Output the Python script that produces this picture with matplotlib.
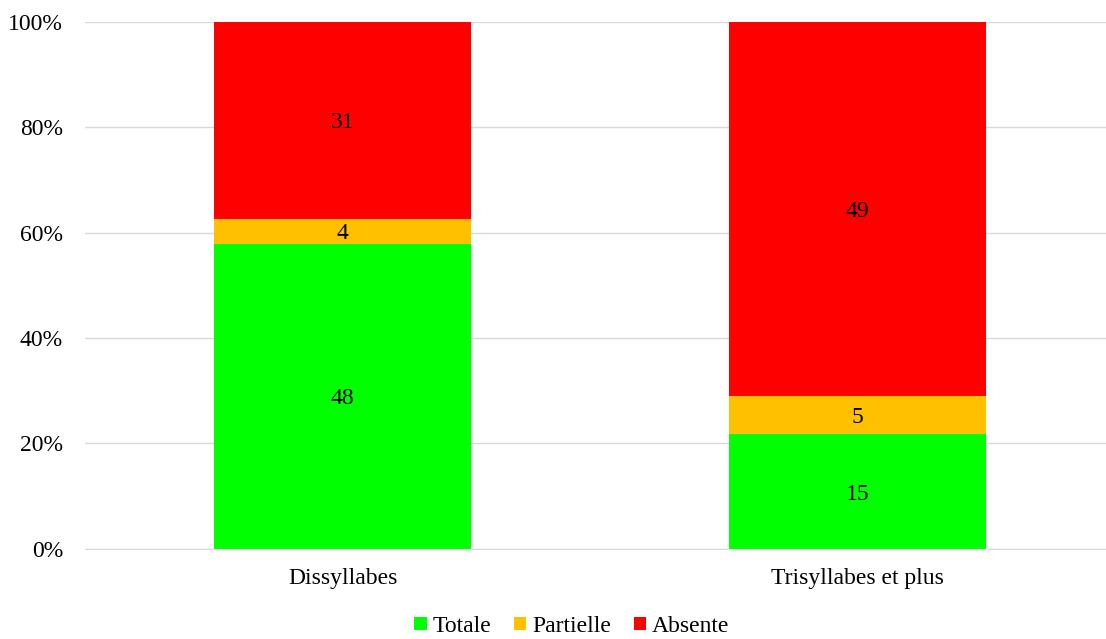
import numpy as np
import matplotlib
matplotlib.use("Agg")
import matplotlib.pyplot as plt
from matplotlib.ticker import PercentFormatter

categories = ["Dissyllabes", "Trisyllabes et plus"]
series_names = ["Totale", "Partielle", "Absente"]
totale = [48, 15]
partielle = [4, 5]
absente = [31, 49]
colors = ["#00FF00", "#FFC000", "#FF0000"]

plt.rcParams['font.family'] = ['Liberation Serif', 'DejaVu Serif']
fs = 17

fig = plt.figure(figsize=(11.06, 6.39), dpi=100)
# plot area runs a bit past the right edge of the figure, like the original
ax = fig.add_axes([0.077, 0.141, 0.931, 0.825])

data = np.array([totale, partielle, absente], dtype=float)
sums = data.sum(axis=0)
pct = data / sums * 100
x = np.arange(len(categories))
bottom = np.zeros(len(categories))
for i, name in enumerate(series_names):
    bars = ax.bar(x, pct[i], 0.5, bottom=bottom, color=colors[i], label=name, zorder=2)
    for j, b in enumerate(bars):
        ax.text(b.get_x() + b.get_width() / 2, bottom[j] + pct[i][j] / 2, str(int(data[i][j])),
                ha="center", va="center_baseline", fontsize=fs, color="black", zorder=3)
    bottom += pct[i]

ax.set_xlim(-0.5, 1.5)
ax.set_ylim(0, 100)
ax.set_yticks(np.arange(0, 101, 20))
ax.yaxis.set_major_formatter(PercentFormatter(decimals=0))
ax.set_xticks(x)
ax.set_xticklabels(categories)
ax.tick_params(axis="both", length=0, labelsize=fs)
ax.tick_params(axis="y", pad=16)
ax.tick_params(axis="x", pad=14)
ax.grid(axis="y", color="#D9D9D9", linewidth=1, zorder=0)
for s in ["top", "right", "left"]:
    ax.spines[s].set_visible(False)
ax.spines["bottom"].set_color("#D9D9D9")

fig.legend(loc="lower center", bbox_to_anchor=(0.517, -0.03), ncol=3, frameon=False,
           fontsize=fs, handlelength=0.52, handleheight=0.52, handletextpad=0.26, columnspacing=0.95)

fig.savefig("out.png", dpi=100)
